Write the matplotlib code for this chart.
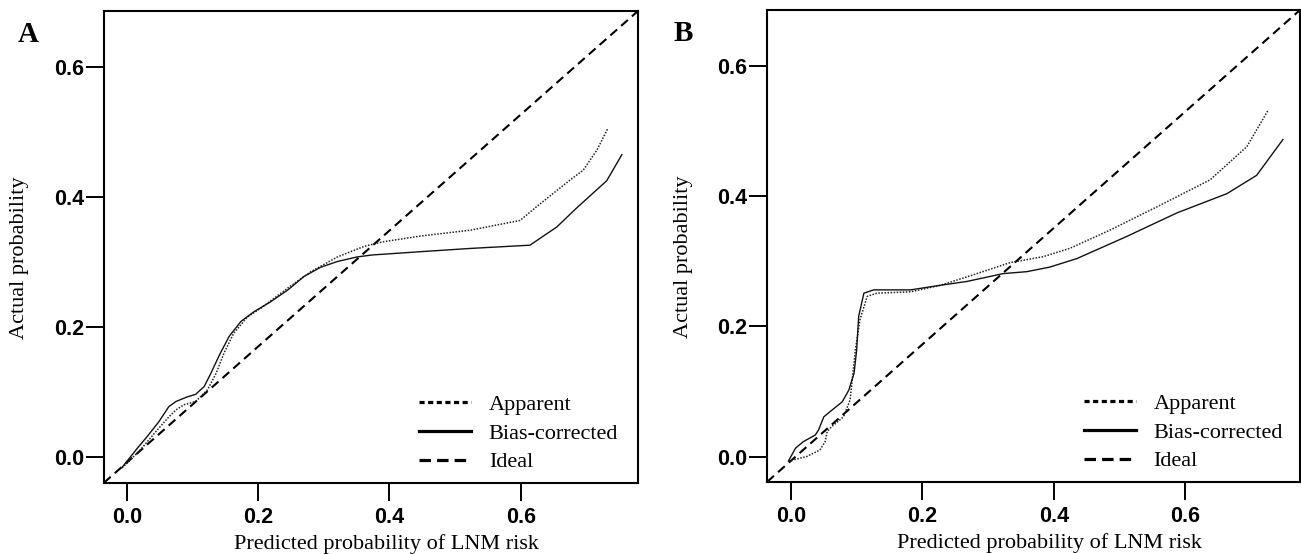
import matplotlib
matplotlib.use("Agg")
import matplotlib.pyplot as plt
from matplotlib.lines import Line2D

# ---------------- data ----------------
xticks = [0.0, 0.2, 0.4, 0.6]
yticks = [0.0, 0.2, 0.4, 0.6]
tick_labels = ["0.0", "0.2", "0.4", "0.6"]

A_app_x = [-0.007, 0.021, 0.042, 0.062, 0.075, 0.087, 0.105, 0.123, 0.136, 0.148, 0.163,
           0.184, 0.204, 0.245, 0.280, 0.321, 0.361, 0.389, 0.447, 0.523, 0.599, 0.624,
           0.675, 0.695, 0.716, 0.733]
A_app_y = [-0.016, 0.012, 0.037, 0.060, 0.073, 0.081, 0.086, 0.104, 0.129, 0.160, 0.191,
           0.216, 0.229, 0.260, 0.285, 0.308, 0.324, 0.331, 0.340, 0.349, 0.364, 0.385,
           0.426, 0.441, 0.472, 0.506]

A_bc_x = [-0.007, 0.016, 0.031, 0.049, 0.064, 0.075, 0.092, 0.105, 0.118, 0.128, 0.141,
          0.156, 0.174, 0.194, 0.219, 0.245, 0.270, 0.295, 0.321, 0.351, 0.374, 0.447,
          0.523, 0.614, 0.655, 0.685, 0.731, 0.754]
A_bc_y = [-0.015, 0.014, 0.032, 0.055, 0.078, 0.086, 0.093, 0.097, 0.109, 0.129, 0.157,
          0.186, 0.209, 0.224, 0.239, 0.257, 0.278, 0.292, 0.301, 0.308, 0.311, 0.316,
          0.321, 0.326, 0.354, 0.383, 0.425, 0.465]

B_app_x = [-0.004, 0.024, 0.044, 0.052, 0.055, 0.062, 0.080, 0.090, 0.098, 0.105, 0.116,
           0.131, 0.182, 0.227, 0.268, 0.334, 0.384, 0.425, 0.486, 0.562, 0.638, 0.694,
           0.727]
B_app_y = [-0.007, 0.000, 0.010, 0.023, 0.038, 0.046, 0.061, 0.087, 0.164, 0.210, 0.246,
           0.251, 0.253, 0.263, 0.276, 0.298, 0.307, 0.320, 0.348, 0.386, 0.425, 0.476,
           0.533]

B_bc_x = [-0.004, 0.007, 0.019, 0.037, 0.042, 0.050, 0.062, 0.078, 0.088, 0.096, 0.100,
          0.103, 0.111, 0.126, 0.182, 0.227, 0.268, 0.323, 0.359, 0.394, 0.435, 0.511,
          0.587, 0.664, 0.709, 0.749]
B_bc_y = [-0.007, 0.013, 0.023, 0.033, 0.041, 0.061, 0.071, 0.084, 0.102, 0.128, 0.164,
          0.215, 0.251, 0.256, 0.256, 0.263, 0.269, 0.281, 0.284, 0.291, 0.304, 0.338,
          0.374, 0.404, 0.432, 0.487]

legend_labels = ["Apparent", "Bias-corrected", "Ideal"]
panel_labels = ["A", "B"]
xlabel = "Predicted probability of LNM risk"
ylabel = "Actual probability"

# ---------------- figure ----------------
W, H = 1301, 554
fig = plt.figure(figsize=(W / 100, H / 100), dpi=100)
fig.patch.set_facecolor("white")

SERIF = "Liberation Serif"
SANS = "Liberation Sans"


def px_axes(l, t, r, b):
    return [l / W, (H - b) / H, (r - l) / W, (b - t) / H]


axA = fig.add_axes(px_axes(104, 11, 638, 482.7))
axB = fig.add_axes(px_axes(767.3, 10, 1300, 481.7))

panels = [
    (axA, A_app_x, A_app_y, A_bc_x, A_bc_y, (-0.0346, 0.7786), (-0.0387, 0.6856),
     0.529, 0.963, (18, 42), 19.5),
    (axB, B_app_x, B_app_y, B_bc_x, B_bc_y, (-0.0361, 0.775), (-0.0387, 0.686),
     0.529, 0.968, (674, 41), 684),
]

for i, (ax, ax_x, ax_y, bx, by, xl, yl, xlab_pos, leg_x, lab_xy, ylab_px) in enumerate(panels):
    ax.set_xlim(*xl)
    ax.set_ylim(*yl)
    # ideal diagonal (corner to corner of the plotting region)
    ax.plot([0, 1], [0, 1], transform=ax.transAxes, color="black", lw=1.5,
            dashes=(4.3, 2.6), solid_capstyle="butt", dash_capstyle="butt")
    ax.plot(ax_x, ax_y, color="#222222", lw=1.1, dashes=(1.0, 1.0))
    ax.plot(bx, by, color="#111111", lw=1.0)

    for sp in ax.spines.values():
        sp.set_linewidth(1.5)
        sp.set_color("black")
    ax.set_xticks(xticks)
    ax.set_yticks(yticks)
    ax.set_xticklabels(tick_labels)
    ax.set_yticklabels(tick_labels)
    ax.tick_params(axis="both", direction="out", length=13, width=1.4, color="black",
                   labelsize=15.5)
    ax.tick_params(axis="x", pad=4.5)
    ax.tick_params(axis="y", pad=1.5)
    for lab in ax.get_xticklabels() + ax.get_yticklabels():
        lab.set_fontfamily(SANS)
        lab.set_fontweight("bold")

    ax.set_xlabel(xlabel, fontsize=16, fontfamily=SERIF)
    ax.xaxis.set_label_coords(xlab_pos, -0.11)
    ax.set_ylabel(ylabel, fontsize=16, fontfamily=SERIF)
    bbox = ax.get_position()
    ax.yaxis.set_label_coords((ylab_px / W - bbox.x0) / bbox.width, 0.477)
    ax.yaxis.label.set_va("center")

    handles = [
        Line2D([], [], color="black", lw=2.3, dashes=(1.6, 1.1)),
        Line2D([], [], color="black", lw=2.3),
        Line2D([], [], color="black", lw=2.3, dashes=(3.6, 1.9)),
    ]
    leg = ax.legend(handles, legend_labels, loc="lower right",
                    bbox_to_anchor=(leg_x, 0.022), frameon=False,
                    prop={"family": SERIF, "size": 16}, handlelength=2.35,
                    handletextpad=0.8, labelspacing=0.37, borderpad=0,
                    borderaxespad=0)

    fig.text(lab_xy[0] / W, 1 - lab_xy[1] / H, panel_labels[i], fontsize=21,
             fontweight="bold", fontfamily=SERIF, va="baseline", ha="left")

fig.savefig("out.png", dpi=100, facecolor="white")
